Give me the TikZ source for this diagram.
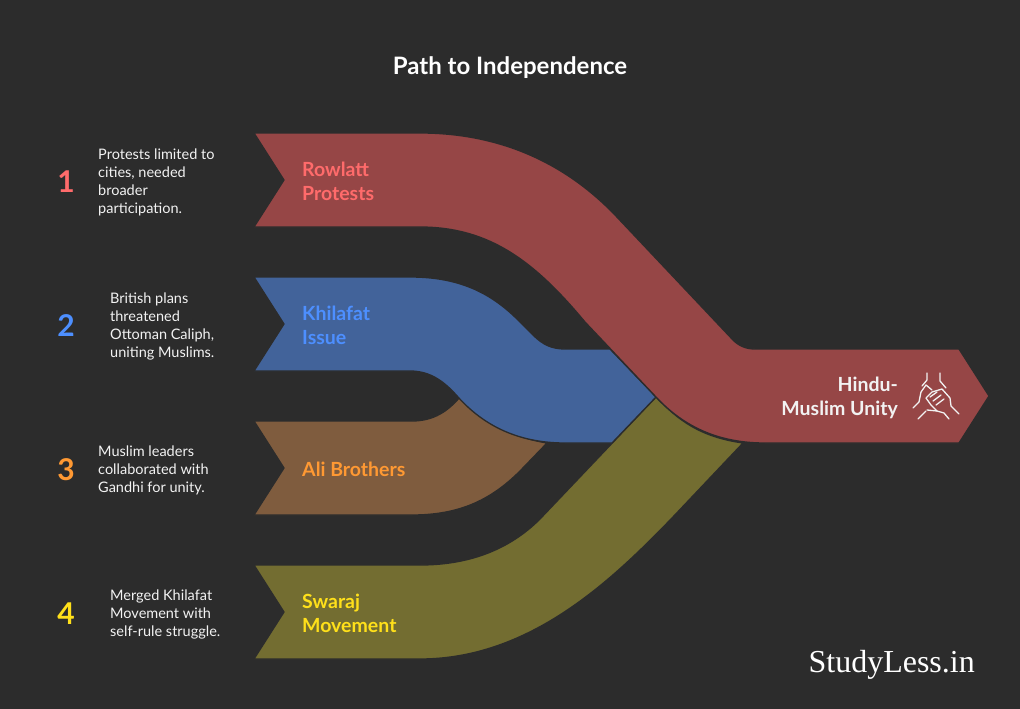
\documentclass[tikz,border=0pt]{standalone}
\usepackage{fontspec}
\setmainfont{Lato}
\newfontfamily\serifmark{Liberation Serif}
\definecolor{bgc}{HTML}{2C2C2C}
\definecolor{redband}{HTML}{964646}
\definecolor{blueband}{HTML}{42639A}
\definecolor{brownband}{HTML}{7F5C3E}
\definecolor{oliveband}{HTML}{736D31}
\definecolor{redtx}{HTML}{FF6B6B}
\definecolor{bluetx}{HTML}{4D8FFF}
\definecolor{orangetx}{HTML}{FF9933}
\definecolor{yellowtx}{HTML}{FFE01A}
\definecolor{softw}{HTML}{F2F2F2}
\tikzset{
  band/.style={draw=bgc,line width=1.3pt,line join=round},
  desc/.style={text=softw,align=left,anchor=west,font=\fontsize{14.5}{18}\selectfont,inner sep=0pt},
  lab/.style={align=left,anchor=west,font=\fontsize{19.5}{24}\selectfont\bfseries,inner sep=0pt},
  num/.style={anchor=center,font=\fontsize{30}{30}\selectfont\bfseries,inner sep=0pt},
  iconline/.style={draw=softw,line width=1.3pt,line cap=round,line join=round}
}
\begin{document}
\begin{tikzpicture}[x=1pt,y=-1pt]
\useasboundingbox[fill=bgc] (0,0) rectangle (1020,709);
% brown
\fill[brownband,band] (254,421) -- (412,421) .. controls (434,421) and (448,411) .. (460,397)
  .. controls (478,417) and (505,436) .. (547,443) -- (520,471)
  .. controls (490,501) and (458,515) .. (412,515) -- (254,515) -- (284,468) -- cycle;
% olive
\fill[oliveband,band] (254,565) -- (420,565) .. controls (470,565) and (510,549) .. (540,519)
  -- (656,397) .. controls (678,420) and (700,437) .. (743,443) -- (672,518)
  .. controls (612,580) and (530,659) .. (420,659) -- (254,659) -- (284,612) -- cycle;
% blue
\fill[blueband,band] (254,277) -- (410,277) .. controls (458,277) and (490,292) .. (518,320)
  -- (533,335) .. controls (543,345) and (552,349) .. (565,349) -- (610,349) -- (656,397) -- (612,443) -- (565,443)
  .. controls (520,443) and (485,427) .. (458,397) .. controls (444,381) and (430,371) .. (410,371)
  -- (254,371) -- (284,324) -- cycle;
% red
\fill[redband,band] (254,133) -- (420,133) .. controls (500,133) and (565,163) .. (615,215)
  -- (733,340) .. controls (739,346) and (746,349) .. (755,349) -- (959,349) -- (989,396) -- (959,443) -- (765,443)
  .. controls (720,443) and (685,428) .. (656,397) -- (585,322)
  .. controls (535,262) and (490,227) .. (420,227) -- (254,227) -- (284,180) -- cycle;
% title
\node[text=white,font=\fontsize{24}{28}\selectfont\bfseries,inner sep=0pt] (title) at (510,68) {Path to Independence};
% numbers
\node[num,text=redtx] (n1) at (66,182) {1};
\node[num,text=bluetx] (n2) at (66,326) {2};
\node[num,text=orangetx] (n3) at (66,470) {3};
\node[num,text=yellowtx] (n4) at (66,614) {4};
% descriptions
\node[desc] (d1) at (98,182) {Protests limited to\\cities, needed\\broader\\participation.};
\node[desc] (d2) at (110,326) {British plans\\threatened\\Ottoman Caliph,\\uniting Muslims.};
\node[desc] (d3) at (98,470) {Muslim leaders\\collaborated with\\Gandhi for unity.};
\node[desc] (d4) at (110,614) {Merged Khilafat\\Movement with\\self-rule struggle.};
% band labels
\node[lab,text=redtx] (l1) at (302,181) {Rowlatt\\Protests};
\node[lab,text=bluetx] (l2) at (302,325) {Khilafat\\Issue};
\node[lab,text=orangetx] (l3) at (302,469) {Ali Brothers};
\node[lab,text=yellowtx] (l4) at (302,613) {Swaraj\\Movement};
\node[lab,text=softw,align=right,anchor=east] (l5) at (898,398) {Hindu-\\Muslim Unity};
% icon
\draw[iconline] (927,373) -- (927,380) -- (922,386);
\draw[iconline] (940,373) -- (940,381) -- (946,388);
\draw[iconline] (913,408) -- (919,402) -- (921,392) -- (926,385) -- (932,390);
\draw[iconline] (918,419) -- (926,411);
\draw[iconline] (959,414) -- (951,406) -- (950,398) -- (942,389) -- (932,392) -- (926,398) -- (931,405) -- (937,411) -- (944,413) -- (949,419);
\draw[iconline] (930,397) -- (937,392);
\draw[iconline] (933,401) -- (941,395);
\draw[iconline] (936,405) -- (944,399);
\draw[iconline] (927,410) -- (937,411);
% mark
\node[text=white,font=\serifmark\fontsize{32}{36}\selectfont,inner sep=0pt,anchor=east] (mark) at (975,665) {StudyLess.in};
\end{tikzpicture}
\end{document}
